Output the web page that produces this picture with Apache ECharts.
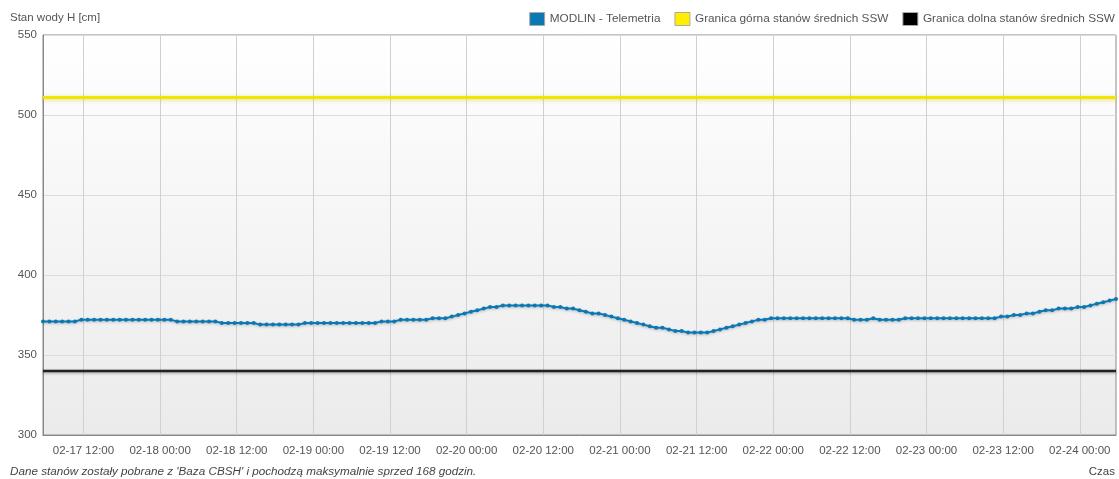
<!DOCTYPE html>
<html>
<head>
<meta charset="utf-8">
<script src="https://cdn.jsdelivr.net/npm/echarts@6/dist/echarts.min.js"></script>
<style>
html,body{margin:0;padding:0;background:#fff;}
#c{width:1119px;height:479px;}
</style>
</head>
<body>
<div id="c"></div>
<script>
// Hours since 02-17 00:00; hourly samples starting at 05:40
var startHour = 5 + 40 / 60;
var endHour = startHour + 168;
var levels = [
  371,371,371,371,371,371,
  372,372,372,372,372,372,372,372,372,372,372,372,372,372,372,
  371,371,371,371,371,371,371,
  370,370,370,370,370,370,
  369,369,369,369,369,369,369,
  370,370,370,370,370,370,370,370,370,370,370,370,
  371,371,371,
  372,372,372,372,372,
  373,373,373,
  374,375,376,377,378,379,380,380,
  381,381,381,381,381,381,381,381,
  380,380,379,379,378,377,376,376,375,374,373,372,371,370,369,368,367,367,366,365,365,
  364,364,364,364,
  365,366,367,368,369,370,371,372,372,
  373,373,373,373,373,373,373,373,373,373,373,373,373,
  372,372,372,373,372,372,372,372,
  373,373,373,373,373,373,373,373,373,373,373,373,373,373,373,
  374,374,375,375,376,376,377,378,378,379,379,379,380,380,381,382,383,384,385
];
var upperSSW = 511;
var lowerSSW = 340;
var tickHours = [12,24,36,48,60,72,84,96,108,120,132,144,156,168];

var seriesMain = levels.map(function(v, i){ return [startHour + i, v]; });
var pad = function(n){ return (n < 10 ? '0' : '') + n; };
function fmtHour(h){
  var d = 17 + Math.floor(h / 24);
  var hh = Math.round(h % 24);
  return '02-' + pad(d) + ' ' + pad(hh) + ':00';
}
var FONT = '"Liberation Sans", Arial, sans-serif';
var chart = echarts.init(document.getElementById('c'), null, {renderer:'canvas'});
chart.setOption({
  animation: false,
  backgroundColor: '#ffffff',
  textStyle: {fontFamily: FONT},
  title: [
    {text: 'Stan wody H [cm]', left: 10, top: 12, padding: 0, textStyle: {fontSize: 11.5, fontWeight: 'normal', color: '#555', fontFamily: FONT}},
    {text: "Dane stanów zostały pobrane z 'Baza CBSH' i pochodzą maksymalnie sprzed 168 godzin.", left: 10, top: 466, padding: 0, textStyle: {fontSize: 11.7, fontStyle: 'italic', fontWeight: 'normal', color: '#444', fontFamily: FONT}},
    {text: 'Czas', right: 4, top: 466, padding: 0, textStyle: {fontSize: 11.5, fontWeight: 'normal', color: '#444', fontFamily: FONT}}
  ],
  legend: {
    right: 4, top: 12, padding: 0,
    icon: 'rect', itemWidth: 15, itemHeight: 13, itemGap: 14,
    itemStyle: {borderColor: '#aaa', borderWidth: 1},
    textStyle: {fontSize: 11.8, color: '#555', fontFamily: FONT},
    data: ['MODLIN - Telemetria', 'Granica górna stanów średnich SSW', 'Granica dolna stanów średnich SSW']
  },
  grid: {
    left: 43, right: 3, top: 35, bottom: 44,
    show: true, borderColor: '#8a8a8a', borderWidth: 1,
    backgroundColor: new echarts.graphic.LinearGradient(0, 0, 0, 1, [
      {offset: 0, color: '#ffffff'}, {offset: 1, color: '#ebebeb'}
    ])
  },
  xAxis: {
    type: 'value', min: startHour, max: endHour,
    axisLine: {show: true, lineStyle: {color: '#888'}},
    axisTick: {show: false, customValues: tickHours},
    axisLabel: {customValues: tickHours, formatter: fmtHour, fontSize: 11.5, color: '#555', margin: 10, fontFamily: FONT},
    splitLine: {show: true, lineStyle: {color: '#d0d0d0', width: 1}}
  },
  yAxis: {
    type: 'value', min: 300, max: 550, interval: 50,
    axisLine: {show: true, lineStyle: {color: '#888'}},
    axisTick: {show: false},
    axisLabel: {fontSize: 11.5, color: '#555', margin: 6, fontFamily: FONT},
    splitLine: {show: true, lineStyle: {color: '#dcdcdc', width: 1}}
  },
  series: [
    {
      name: 'Granica górna stanów średnich SSW', type: 'line',
      data: [[startHour, upperSSW], [endHour, upperSSW]],
      symbol: 'none', color: '#ffee00',
      lineStyle: {color: '#f2e600', width: 3, shadowColor: 'rgba(200,190,0,0.5)', shadowBlur: 4, shadowOffsetY: 1},
      z: 3
    },
    {
      name: 'Granica dolna stanów średnich SSW', type: 'line',
      data: [[startHour, lowerSSW], [endHour, lowerSSW]],
      symbol: 'none', color: '#000000',
      lineStyle: {color: '#222', width: 2.5, shadowColor: 'rgba(0,0,0,0.35)', shadowBlur: 3, shadowOffsetY: 1},
      z: 3
    },
    {
      name: 'MODLIN - Telemetria', type: 'line',
      data: seriesMain,
      color: '#0a78b4',
      symbol: 'circle', symbolSize: 4, showSymbol: true,
      lineStyle: {color: '#0a78b4', width: 2, shadowColor: 'rgba(0,0,0,0.3)', shadowBlur: 3, shadowOffsetY: 1},
      itemStyle: {color: '#0a78b4'},
      z: 4
    }
  ]
});
</script>
</body>
</html>
